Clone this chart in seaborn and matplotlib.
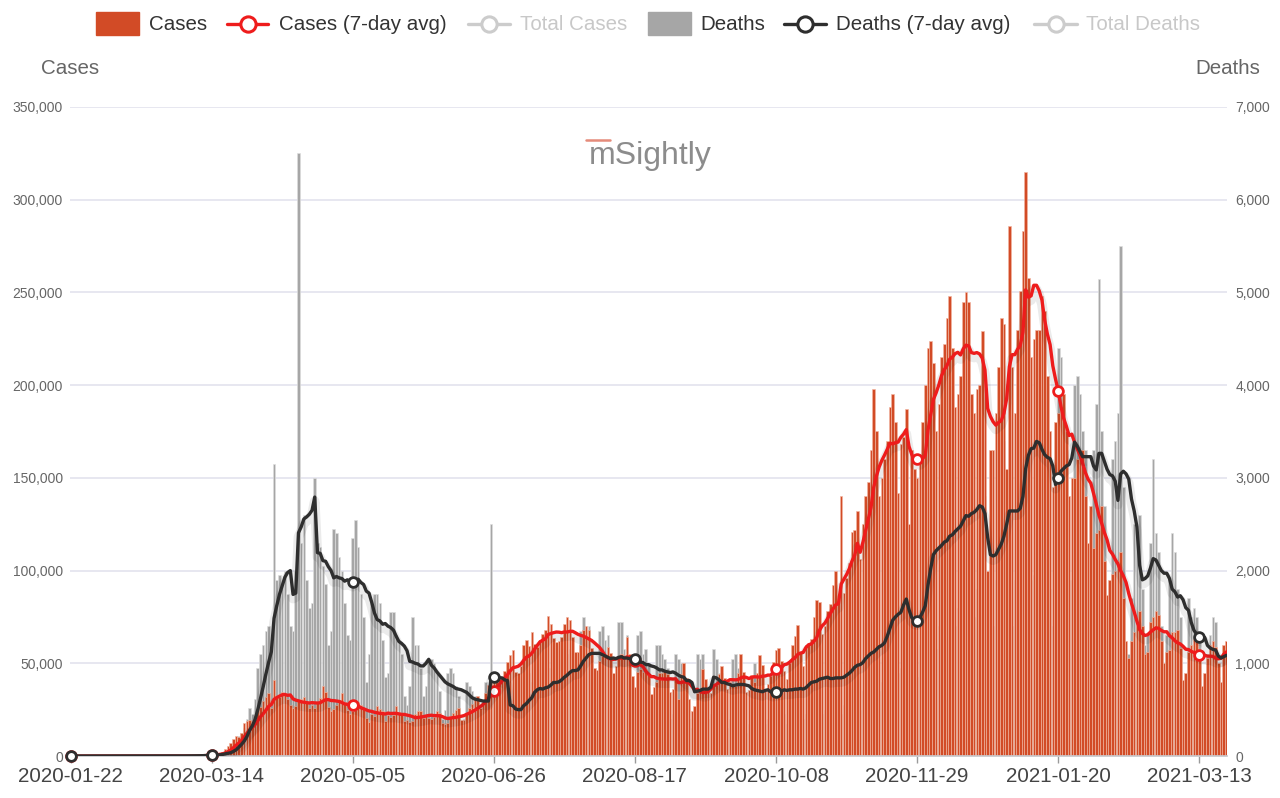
import numpy as np
import pandas as pd
import seaborn as sns
import matplotlib.pyplot as plt
import matplotlib.patheffects as pe
from matplotlib.patches import Rectangle
from matplotlib.lines import Line2D
from matplotlib.ticker import FuncFormatter

# daily new cases (thousands), one list per month, starting 2020-01-22
cases_2020_01 = [0, 0, 0, 0, 0, 0, 0, 0, 0, 0]
cases_2020_02 = [0, 0, 0, 0, 0, 0, 0, 0, 0, 0, 0, 0, 0, 0, 0, 0, 0, 0, 0, 0,
                 0, 0, 0, 0, 0, 0, 0, 0, 0]
cases_2020_03 = [0.0, 0.0, 0.0, 0.0, 0.1, 0.1, 0.1, 0.1, 0.2, 0.3, 0.4, 0.5, 0.6, 0.7, 0.9, 1.2,
                 1.8, 2.3, 3.9, 5.6, 6.9, 9.3, 10.6, 10.0, 12.4, 17.8, 18.7, 19.6, 18.8, 21.4, 24.9]
cases_2020_04 = [26.5, 29.5, 32.0, 34.0, 26.0, 41.0, 31.5, 32.0, 34.5, 33.5, 30.5, 27.5, 26.0, 27.0,
                 29.5, 30.5, 32.0, 29.0, 26.0, 27.5, 26.0, 29.0, 31.5, 38.0, 34.5, 26.5, 24.0, 25.5,
                 27.5, 30.0]
cases_2020_05 = [34.0, 29.0, 25.0, 22.5, 24.0, 25.0, 29.0, 27.5, 25.5, 20.5, 18.5, 22.5, 21.5, 27.0,
                 25.5, 24.5, 19.0, 22.0, 21.0, 22.0, 27.0, 23.5, 22.5, 19.0, 19.5, 18.5, 19.0, 22.5,
                 24.5, 24.0, 20.5]
cases_2020_06 = [22.0, 20.5, 20.0, 21.0, 24.5, 23.0, 18.0, 17.0, 18.0, 21.5, 23.0, 25.0, 26.0, 19.5,
                 19.5, 23.0, 26.0, 28.0, 31.0, 32.5, 26.0, 28.0, 34.0, 38.5, 40.0, 45.0, 43.0, 41.5,
                 40.5, 46.0]
cases_2020_07 = [50.5, 54.5, 57.0, 45.5, 45.0, 48.5, 60.0, 62.5, 59.5, 67.0, 60.5, 59.0, 62.5, 66.0,
                 68.0, 75.5, 71.0, 63.5, 61.5, 62.0, 64.0, 71.0, 75.0, 73.5, 64.0, 56.0, 56.0, 60.0,
                 68.0, 70.0, 68.0]
cases_2020_08 = [58.5, 47.5, 46.5, 51.0, 54.0, 53.5, 59.0, 55.5, 45.0, 48.5, 53.5, 55.0, 52.5, 64.0,
                 55.0, 43.0, 37.0, 45.5, 47.0, 45.5, 47.0, 44.0, 33.5, 37.0, 40.0, 45.0, 44.5, 46.5,
                 44.0, 34.5, 36.0]
cases_2020_09 = [41.0, 31.0, 44.0, 50.0, 42.0, 31.0, 24.0, 27.0, 34.0, 35.0, 47.0, 41.5, 34.5, 34.0,
                 39.0, 38.5, 44.0, 48.5, 42.0, 36.0, 40.0, 39.0, 38.0, 45.0, 55.0, 45.5, 34.5, 35.5,
                 43.5, 40.0]
cases_2020_10 = [44.5, 54.5, 49.0, 35.0, 39.0, 43.0, 50.5, 57.0, 58.0, 51.0, 46.0, 41.5, 50.0, 60.0,
                 64.5, 70.5, 56.0, 48.5, 60.0, 60.5, 63.0, 75.0, 84.0, 83.0, 66.0, 70.0, 78.0, 82.0,
                 92.0, 100.0, 87.0]
cases_2020_11 = [140, 88, 96, 104, 121, 122, 132, 106, 125, 140, 148, 165, 198, 175, 140, 150, 160,
                 170, 188, 195, 180, 142, 168, 172, 187, 125, 165, 155, 150, 160]
cases_2020_12 = [180, 200, 220, 224, 212, 175, 190, 215, 222, 236, 248, 220, 188, 195, 205, 245, 250,
                 245, 195, 185, 198, 200, 229, 205, 100, 165, 165, 185, 210, 236, 233]
cases_2021_01 = [155, 286, 210, 185, 230, 251, 283, 315, 258, 215, 225, 230, 230, 248, 240, 205, 175,
                 145, 180, 185, 190, 195, 175, 140, 150, 150, 160, 165, 165, 140, 115]
cases_2021_02 = [135, 112, 120, 122, 135, 105, 87, 95, 98, 100, 105, 110, 85, 62, 53, 62, 67, 70, 78,
                 70, 55, 56, 72, 75, 78, 76, 62, 50]
cases_2021_03 = [56, 57, 67, 67, 68, 58, 41, 45, 56, 60, 63, 66, 52, 38, 45, 53, 60, 62, 59, 50, 40,
                 60, 62]

# daily new deaths
deaths_2020_01 = [0, 0, 0, 0, 0, 0, 0, 0, 0, 0]
deaths_2020_02 = [0, 0, 0, 0, 0, 0, 0, 0, 0, 0, 0, 0, 0, 0, 0, 0, 0, 0, 0, 0,
                  0, 0, 0, 0, 0, 0, 0, 0, 1]
deaths_2020_03 = [0, 1, 4, 2, 1, 2, 3, 4, 4, 4, 8, 7, 10, 11, 10, 18, 23, 40, 49, 56, 47, 110, 140,
                  220, 250, 300, 400, 520, 450, 620, 950]
deaths_2020_04 = [1100, 1200, 1350, 1400, 1250, 3150, 1900, 1950, 1850, 2000, 1750, 1400, 1350, 2000,
                  6500, 2300, 2600, 1900, 1600, 1650, 3000, 2300, 2250, 2050, 1850, 1200, 1350, 2450,
                  2400, 2150]
deaths_2020_05 = [2000, 1650, 1300, 1250, 2350, 2550, 2250, 1750, 1500, 800, 1100, 1650, 1750, 1750,
                  1650, 1250, 850, 900, 1550, 1550, 1300, 1250, 1100, 650, 550, 750, 1500, 1200, 1200,
                  950, 650]
deaths_2020_06 = [750, 1050, 1050, 1000, 900, 700, 400, 500, 900, 950, 900, 750, 650, 350, 400, 800,
                  750, 700, 650, 600, 300, 350, 800, 750, 2500, 650, 550, 300, 350, 650]
deaths_2020_07 = [700, 650, 600, 300, 250, 350, 950, 850, 900, 800, 700, 450, 450, 900, 950, 950, 950,
                  900, 450, 500, 1050, 1150, 1100, 1150, 1050, 450, 550, 1350, 1500, 1350, 1400]
deaths_2020_08 = [1150, 450, 550, 1350, 1400, 1250, 1300, 1050, 500, 500, 1450, 1450, 1150, 1300, 1000,
                  550, 450, 1300, 1350, 1100, 1150, 1000, 450, 400, 1200, 1200, 1100, 1050, 950, 400,
                  450]
deaths_2020_09 = [1100, 1050, 1000, 1000, 700, 400, 300, 400, 1100, 1050, 1100, 700, 400, 450, 1150,
                  1050, 900, 900, 700, 300, 400, 1050, 1100, 950, 900, 700, 250, 350, 850, 1000]
deaths_2020_10 = [900, 850, 650, 350, 400, 700, 950, 950, 900, 650, 450, 350, 750, 950, 1000, 900, 700,
                  400, 450, 950, 1150, 1050, 950, 850, 450, 500, 1000, 1050, 1050, 1000, 850]
deaths_2020_11 = [450, 550, 1150, 1200, 1250, 1250, 1000, 500, 700, 1450, 1400, 1450, 1350, 1200, 700,
                  800, 1650, 1900, 2050, 1950, 1450, 900, 950, 2200, 2350, 1250, 1350, 1250, 850, 1200]
deaths_2020_12 = [2600, 2850, 2800, 2600, 2300, 1150, 1400, 2800, 3100, 2900, 2950, 2400, 1400, 1600,
                  3000, 3500, 3300, 2900, 2600, 1500, 1800, 3300, 3400, 2800, 1100, 1300, 1400, 1900,
                  3700, 3800, 3400]
deaths_2021_01 = [2000, 2300, 1400, 1900, 3700, 4000, 4300, 4100, 3300, 1900, 1950, 4200, 3900, 3800,
                  3700, 3100, 1800, 1400, 2800, 4400, 4300, 3900, 3300, 1900, 1900, 4000, 4100, 3900,
                  3500, 3300, 1900]
deaths_2021_02 = [1900, 3300, 3800, 5150, 3500, 2700, 1300, 1500, 3200, 3400, 3700, 5500, 2900, 1100,
                  1100, 1700, 2500, 2500, 2600, 1800, 1200, 1300, 2300, 3200, 2400, 2200, 1400, 1000]
deaths_2021_03 = [1300, 1900, 2400, 2200, 1800, 1500, 700, 700, 1700, 1500, 1600, 1500, 1300, 650, 700,
                  1100, 1300, 1500, 1450, 850, 500, 800, 1200]

tick_labels = ['2020-01-22', '2020-03-14', '2020-05-05', '2020-06-26', '2020-08-17',
               '2020-10-08', '2020-11-29', '2021-01-20', '2021-03-13']

cases = np.array(cases_2020_01 + cases_2020_02 + cases_2020_03 + cases_2020_04 + cases_2020_05 +
                 cases_2020_06 + cases_2020_07 + cases_2020_08 + cases_2020_09 + cases_2020_10 +
                 cases_2020_11 + cases_2020_12 + cases_2021_01 + cases_2021_02 + cases_2021_03,
                 dtype=float) * 1000
deaths = np.array(deaths_2020_01 + deaths_2020_02 + deaths_2020_03 + deaths_2020_04 + deaths_2020_05 +
                  deaths_2020_06 + deaths_2020_07 + deaths_2020_08 + deaths_2020_09 + deaths_2020_10 +
                  deaths_2020_11 + deaths_2020_12 + deaths_2021_01 + deaths_2021_02 + deaths_2021_03,
                  dtype=float)

df = pd.DataFrame({'date': pd.date_range('2020-01-22', periods=len(cases)),
                   'cases': cases, 'deaths': deaths})
df['day'] = np.arange(len(df))
df['cases_avg'] = df['cases'].rolling(7, min_periods=1).mean()
df['deaths_avg'] = df['deaths'].rolling(7, min_periods=1).mean()
tick_days = df['day'][df['date'].dt.strftime('%Y-%m-%d').isin(tick_labels)].values

sns.set_theme(style="white")
plt.rcParams['font.family'] = ['Liberation Sans', 'DejaVu Sans']

W, H = 1280, 798
CASE_COL = '#d24b26'
CASE_EDGE = '#f2b7a2'
DEATH_COL = '#a6a6a6'
DEATH_EDGE = '#dedede'
RED = '#ee1c1c'
BLACK = '#2e2e2e'
GRID = '#e3e3ee'
FS = 14.8

fig = plt.figure(figsize=(W / 100, H / 100), dpi=100)
rect = [70 / W, 1 - 756 / H, (1227 - 70) / W, (756 - 107) / H]
ax = fig.add_axes(rect)
ax_d = ax.twinx()
ax_dl = ax.twinx()
ax_d.set_zorder(1)
ax.set_zorder(2)
ax_dl.set_zorder(3)
ax.patch.set_visible(False)
ax_dl.patch.set_visible(False)

# death bars at the back, on the right-hand scale
sns.barplot(data=df, x='day', y='deaths', native_scale=True, color=DEATH_COL, saturation=1,
            width=0.95, errorbar=None, linewidth=0.45, edgecolor=DEATH_EDGE, ax=ax_d)
# case bars on top
sns.barplot(data=df, x='day', y='cases', native_scale=True, color=CASE_COL, saturation=1,
            width=0.95, errorbar=None, linewidth=0.45, edgecolor=CASE_EDGE, ax=ax)

# 7-day averages
shadow = [pe.SimpleLineShadow(offset=(0, -3), shadow_color='#000000', alpha=0.08, linewidth=7),
          pe.Normal()]
sns.lineplot(data=df, x='day', y='cases_avg', color=RED, linewidth=2.4, ax=ax, zorder=5,
             path_effects=shadow)
sns.lineplot(data=df, x='day', y='deaths_avg', color=BLACK, linewidth=2.4, ax=ax_dl, zorder=5,
             path_effects=shadow)
mk = df[df['day'].isin(tick_days)]
ax.plot(mk['day'], mk['cases_avg'], 'o', ms=7, mfc='white', mec=RED, mew=2, zorder=6, clip_on=False)
ax_dl.plot(mk['day'], mk['deaths_avg'], 'o', ms=7, mfc='white', mec=BLACK, mew=2, zorder=6,
           clip_on=False)

for a in (ax, ax_d, ax_dl):
    a.set_xlim(-0.2, 426.2)
    for s in a.spines.values():
        s.set_visible(False)
    a.set_xlabel('')
    a.set_ylabel('')
ax.set_ylim(0, 350000)
ax_d.set_ylim(0, 7000)
ax_dl.set_ylim(0, 7000)

ax.set_yticks(np.arange(0, 350001, 50000))
ax.yaxis.set_major_formatter(FuncFormatter(lambda v, p: f'{v:,.0f}'))
ax.tick_params(axis='y', length=0, pad=5, labelsize=10, labelcolor='#666666')
ax_d.set_yticks(np.arange(0, 7001, 1000))
ax_d.yaxis.set_major_formatter(FuncFormatter(lambda v, p: f'{v:,.0f}'))
ax_d.tick_params(axis='y', length=0, pad=6, labelsize=10, labelcolor='#666666')
ax_dl.set_yticks([])
ax_d.yaxis.grid(True, color=GRID, linewidth=1.2)
ax_d.set_axisbelow(True)
ax.grid(False)
ax_dl.grid(False)

ax.set_xticks(tick_days)
ax.set_xticklabels(tick_labels)
ax.tick_params(axis='x', length=5, width=1, color='#9a9a9a', pad=3, labelsize=FS,
               labelcolor='#444444', bottom=True)
ax.spines['bottom'].set_visible(True)
ax.spines['bottom'].set_color('#c8c8cc')

# axis titles
fig.text(70 / W, 1 - 69 / H, 'Cases', ha='center', va='center', fontsize=FS, color='#666666')
fig.text(1228 / W, 1 - 69 / H, 'Deaths', ha='center', va='center', fontsize=FS, color='#666666')

# watermark
fig.text(650 / W, 1 - 156 / H, 'mSightly', ha='center', va='center', fontsize=23,
         color='#8c8c8c')
fig.add_artist(Line2D([586 / W, 610 / W], [1 - 140 / H, 1 - 140 / H], color='#e58b7a',
                      linewidth=1.8, transform=fig.transFigure))

# legend drawn along the top
ly = 1 - 24 / H
def box(x0, x1, color):
    fig.add_artist(Rectangle((x0 / W, 1 - 35 / H), (x1 - x0) / W, 23 / H, color=color,
                             transform=fig.transFigure))

def line_sym(x0, x1, color):
    fig.add_artist(Line2D([x0 / W, x1 / W], [ly, ly], color=color, linewidth=2.4,
                          transform=fig.transFigure))
    fig.add_artist(Line2D([(x0 + x1) / 2 / W], [ly], marker='o', ms=11, mfc='white', mec=color,
                          mew=2.2, transform=fig.transFigure))

box(96, 139, CASE_COL)
fig.text(149 / W, ly, 'Cases', va='center', fontsize=FS, color='#333333')
line_sym(227, 268, RED)
fig.text(279 / W, ly, 'Cases (7-day avg)', va='center', fontsize=FS, color='#333333')
line_sym(468, 510, '#cccccc')
fig.text(520 / W, ly, 'Total Cases', va='center', fontsize=FS, color='#c8c8c8')
box(648, 691, DEATH_COL)
fig.text(700 / W, ly, 'Deaths', va='center', fontsize=FS, color='#333333')
line_sym(784, 826, BLACK)
fig.text(836 / W, ly, 'Deaths (7-day avg)', va='center', fontsize=FS, color='#333333')
line_sym(1034, 1077, '#cccccc')
fig.text(1086 / W, ly, 'Total Deaths', va='center', fontsize=FS, color='#c8c8c8')

fig.savefig('out.png', dpi=100, facecolor='white')
